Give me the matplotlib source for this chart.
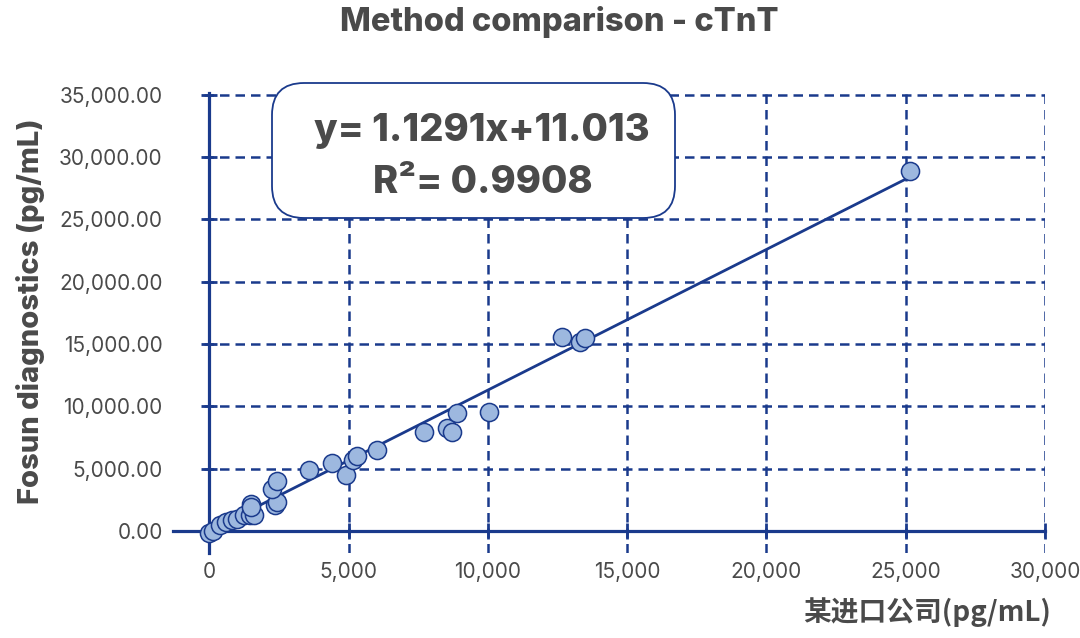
import matplotlib.pyplot as plt
import numpy as np
from matplotlib.patches import FancyBboxPatch
from matplotlib.ticker import FuncFormatter

plt.rcParams['font.family'] = ['Inter', 'Noto Sans CJK SC', 'DejaVu Sans']

# Colours
navy = '#1a3a8c'
fill = '#9db8df'
text_grey = '#4a4a4a'

# Reference method (x) vs Fosun diagnostics (y), pg/mL
ref_x = [0, 150, 400, 600, 820, 1000, 1250, 1450, 1620, 1500, 1500,
         2350, 2450, 2260, 2430, 3590, 4420, 4920, 5150, 5290, 6040,
         7700, 8550, 8700, 8880, 10060, 12650, 13300, 13500, 25150]
fosun_y = [-200, 30, 500, 700, 850, 950, 1300, 1300, 1300, 2200, 1950,
           2120, 2330, 3400, 4020, 4900, 5470, 4500, 5700, 6030, 6520,
           7970, 8290, 7970, 9490, 9570, 15530, 15200, 15450, 28880]

slope = 1.1291
intercept = 11.013
r2 = 0.9908

x_ticks = [0, 5000, 10000, 15000, 20000, 25000, 30000]
y_ticks = [0, 5000, 10000, 15000, 20000, 25000, 30000, 35000]

fig = plt.figure(figsize=(10.8, 6.38), dpi=100)
ax = fig.add_axes([173 / 1080, 1 - 553 / 638, (1045 - 173) / 1080, (553 - 93) / 638])

ax.set_xlim(-1300, 30000)
ax.set_ylim(-1770, 35150)

# dashed grid
dash = (0, (3.8, 2.4))
for xv in x_ticks[1:]:
    ax.axvline(xv, color=navy, lw=1.8, ls=dash, zorder=1)
for yv in y_ticks[1:]:
    ax.axhline(yv, xmin=(-180 + 1300) / (30000 + 1300), color=navy,
               lw=1.8, ls=dash, zorder=1)

# regression line
fx = np.array([min(ref_x), max(ref_x)])
ax.plot(fx, slope * fx + intercept, color=navy, lw=2, zorder=2)

ax.scatter(ref_x, fosun_y, s=170, color=fill, edgecolor=navy, linewidth=1.1, zorder=3)

for side in ['top', 'right']:
    ax.spines[side].set_visible(False)
ax.spines['left'].set_position(('data', 0))
ax.spines['bottom'].set_position(('data', 0))
for side in ['left', 'bottom']:
    ax.spines[side].set_color(navy)
    ax.spines[side].set_linewidth(2.3)

ax.set_xticks(x_ticks)
ax.set_yticks(y_ticks)
ax.xaxis.set_major_formatter(FuncFormatter(lambda v, p: f'{v:,.0f}'))
ax.yaxis.set_major_formatter(FuncFormatter(lambda v, p: f'{v:,.2f}'))
ax.tick_params(axis='both', direction='inout', length=11, width=2, color=navy,
               labelcolor=text_grey, labelsize=15)
ax.tick_params(axis='x', pad=17)
ax.tick_params(axis='y', pad=28)

fig.text(0.518, 0.966, 'Method comparison - cTnT', ha='center', va='center',
         fontsize=23.5, fontweight='heavy', color=text_grey)
fig.text(0.028, 0.512, 'Fosun diagnostics (pg/mL)', rotation=90, ha='center', va='center',
         fontsize=21, fontweight='heavy', color=text_grey)
fig.text(0.973, 0.04, '某进口公司(pg/mL)', ha='right', va='center',
         fontsize=20, fontweight='bold', color=text_grey,
         family=['Noto Sans CJK SC', 'DejaVu Sans'])

# equation box
box = FancyBboxPatch((2.72, 4.20), 4.03, 1.35, boxstyle='round,pad=0,rounding_size=0.32',
                     transform=fig.dpi_scale_trans, facecolor='white', edgecolor=navy,
                     linewidth=1.3, zorder=5)
fig.patches.append(box)
fig.text(0.446, 0.795, f'y= {slope}x+{intercept}', ha='center', va='center',
         fontsize=27.5, fontweight='heavy', color=text_grey, zorder=6)
fig.text(0.447, 0.713, f'R²= {r2}', ha='center', va='center',
         fontsize=27.5, fontweight='heavy', color=text_grey, zorder=6)

fig.savefig('out.png', dpi=100)
